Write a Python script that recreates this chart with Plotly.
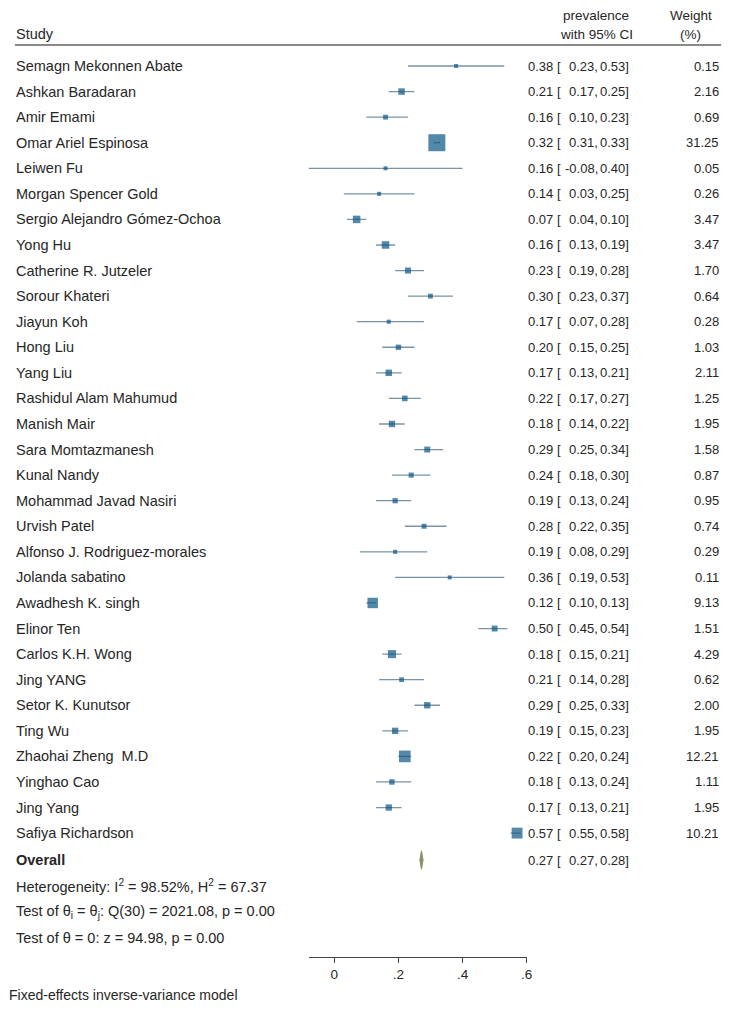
import plotly.graph_objs as go

# study level results (prevalence with 95% CI, weight in %)
studies = [
    'Semagn Mekonnen Abate', 'Ashkan Baradaran', 'Amir Emami', 'Omar Ariel Espinosa',
    'Leiwen Fu', 'Morgan Spencer Gold', 'Sergio Alejandro Gómez-Ochoa', 'Yong Hu',
    'Catherine R. Jutzeler', 'Sorour Khateri', 'Jiayun Koh', 'Hong Liu', 'Yang Liu',
    'Rashidul Alam Mahumud', 'Manish Mair', 'Sara Momtazmanesh', 'Kunal Nandy',
    'Mohammad Javad Nasiri', 'Urvish Patel', 'Alfonso J. Rodriguez-morales',
    'Jolanda sabatino', 'Awadhesh K. singh', 'Elinor Ten', 'Carlos K.H. Wong',
    'Jing YANG', 'Setor K. Kunutsor', 'Ting Wu', 'Zhaohai Zheng  M.D', 'Yinghao Cao',
    'Jing Yang', 'Safiya Richardson',
]
prevalence = [0.38, 0.21, 0.16, 0.32, 0.16, 0.14, 0.07, 0.16, 0.23, 0.30, 0.17, 0.20, 0.17,
              0.22, 0.18, 0.29, 0.24, 0.19, 0.28, 0.19, 0.36, 0.12, 0.50, 0.18, 0.21, 0.29,
              0.19, 0.22, 0.18, 0.17, 0.57]
ci_low = [0.23, 0.17, 0.10, 0.31, -0.08, 0.03, 0.04, 0.13, 0.19, 0.23, 0.07, 0.15, 0.13,
          0.17, 0.14, 0.25, 0.18, 0.13, 0.22, 0.08, 0.19, 0.10, 0.45, 0.15, 0.14, 0.25,
          0.15, 0.20, 0.13, 0.13, 0.55]
ci_high = [0.53, 0.25, 0.23, 0.33, 0.40, 0.25, 0.10, 0.19, 0.28, 0.37, 0.28, 0.25, 0.21,
           0.27, 0.22, 0.34, 0.30, 0.24, 0.35, 0.29, 0.53, 0.13, 0.54, 0.21, 0.28, 0.33,
           0.23, 0.24, 0.24, 0.21, 0.58]
weight = [0.15, 2.16, 0.69, 31.25, 0.05, 0.26, 3.47, 3.47, 1.70, 0.64, 0.28, 1.03, 2.11,
          1.25, 1.95, 1.58, 0.87, 0.95, 0.74, 0.29, 0.11, 9.13, 1.51, 4.29, 0.62, 2.00,
          1.95, 12.21, 1.11, 1.95, 10.21]

# pooled estimate
overall_est = 0.272
overall_low = 0.267
overall_high = 0.277

stats_lines = [
    'Heterogeneity: I<sup>2</sup> = 98.52%, H<sup>2</sup> = 67.37',
    'Test of θ<sub>i</sub> = θ<sub>j</sub>: Q(30) = 2021.08, p = 0.00',
    'Test of θ = 0: z = 94.98, p = 0.00',
]
tick_vals = [0, 0.2, 0.4, 0.6]
tick_text = ['0', '.2', '.4', '.6']

W, H = 733, 1011
OFFX, OFFY = 3, 8  # where the figure lands on the page
TOP_ROW_PX, ROW_PX = 66, 25.57
AXIS_PX = 957
FONT = 'Liberation Sans, Arial, sans-serif'
TXT = '#262626'
BOX = '#0b5685'
CI_LINE = '#7a93a6'
NAME_SIZE = 14.5
NUM_SIZE = 13


def row_y(px):
    '''convert a page pixel height into row units of the y axis'''
    return (px - TOP_ROW_PX) / ROW_PX


def px_x(px):
    '''convert a page pixel x into paper units'''
    return (px - OFFX) / W


rows = list(range(len(studies)))

# confidence interval lines
ci_x, ci_y = [], []
for r, lo, hi in zip(rows, ci_low, ci_high):
    ci_x += [lo, hi, None]
    ci_y += [r, r, None]

fig = go.Figure()
fig.add_trace(go.Scatter(x=ci_x, y=ci_y, mode='lines', line=dict(color=CI_LINE, width=1.3),
                         hoverinfo='skip', cliponaxis=False))

# weight boxes, area grows with the study weight
sizes = [max(4, 2.76 + 2.55 * w ** 0.5) for w in weight]
fig.add_trace(go.Scatter(x=prevalence, y=rows, mode='markers', cliponaxis=False,
                         marker=dict(symbol='square', size=sizes, color=BOX,
                                     line=dict(width=0))))

# overall diamond
orow = row_y(860)
fig.add_trace(go.Scatter(x=[overall_low, overall_est, overall_high, overall_est, overall_low],
                         y=[orow, orow - 0.36, orow, orow + 0.36, orow],
                         mode='lines', fill='toself', fillcolor='#8b8e68',
                         line=dict(color='#8b8e68', width=1), cliponaxis=False))

ann = []


def text(x, y, s, anchor='left', size=NAME_SIZE, bold=False):
    # x is a page pixel (where the ink should start / end), y in row units
    if bold:
        s = '<b>' + s + '</b>'
    pad = {'left': -6, 'right': 2, 'center': 0}[anchor]
    ann.append(dict(x=px_x(x + pad), y=y, xref='paper', yref='y', text=s, showarrow=False,
                    xanchor=anchor, yanchor='middle',
                    font=dict(family=FONT, size=size, color=TXT)))


def numbers(r, est, lo, hi, w=None):
    text(561, r, f'{est:.2f} [', 'right', NUM_SIZE)
    text(598, r, f'{lo:.2f},', 'right', NUM_SIZE)
    text(629, r, f'{hi:.2f}]', 'right', NUM_SIZE)
    if w is not None:
        text(720, r, f'{w:.2f}', 'right', NUM_SIZE)


# header
text(15, row_y(34), 'Study')
text(596, row_y(15), 'prevalence', 'center', 13.5)
text(596, row_y(34), 'with 95% CI', 'center', 13.5)
text(692, row_y(15), 'Weight', 'center', 13.5)
text(691, row_y(34), '(%)', 'center', 13.5)

for r in rows:
    text(15, r, studies[r])
    numbers(r, prevalence[r], ci_low[r], ci_high[r], weight[r])

text(15, orow, 'Overall', bold=True)
numbers(orow, overall_est, overall_low, overall_high)

for i, s in enumerate(stats_lines):
    text(15, row_y(886 + 26 * i), s)

plot_h = AXIS_PX - OFFY
ann.append(dict(x=px_x(8 - 6), y=(AXIS_PX - 995) / plot_h, xref='paper', yref='paper',
                text='Fixed-effects inverse-variance model', showarrow=False,
                xanchor='left', yanchor='middle',
                font=dict(family=FONT, size=14, color=TXT)))

fig.update_layout(
    width=W, height=H,
    margin=dict(l=0, r=0, t=0, b=H - plot_h, pad=0),
    plot_bgcolor='white', paper_bgcolor='white',
    showlegend=False,
    annotations=ann,
    shapes=[dict(type='line', xref='paper', yref='y', x0=px_x(10), x1=px_x(722),
                 y0=row_y(45), y1=row_y(45), line=dict(color='#8a8a8a', width=2))],
    xaxis=dict(domain=[px_x(306), px_x(526)], range=[-0.08, 0.6], showgrid=False,
               zeroline=False, showline=True, linecolor='#444', linewidth=1,
               ticks='outside', ticklen=5, tickcolor='#444', tickvals=tick_vals,
               ticktext=tick_text, tickfont=dict(family=FONT, size=13.5, color=TXT)),
    yaxis=dict(range=[row_y(AXIS_PX), row_y(OFFY)], visible=False),
)

fig.write_html('out.html')
